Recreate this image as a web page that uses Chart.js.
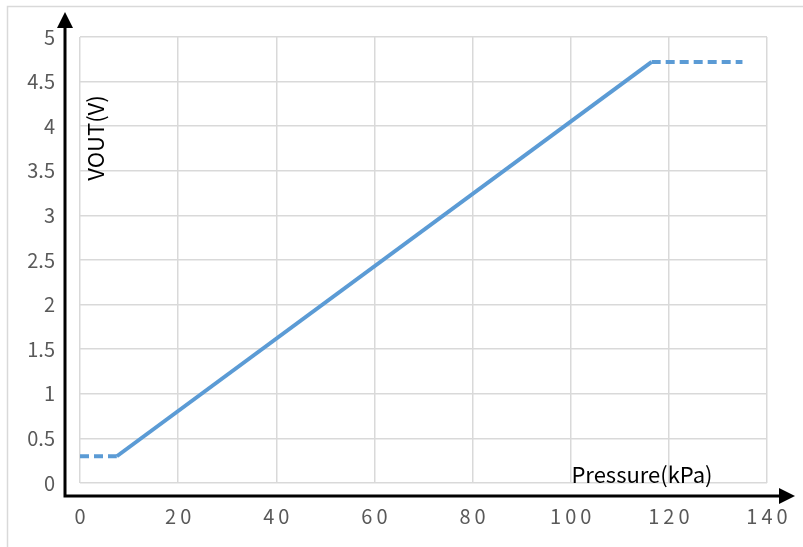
<!DOCTYPE html>
<html>
<head>
<meta charset="utf-8">
<script src="https://cdn.jsdelivr.net/npm/chart.js@4"></script>
<style>
  html, body { margin: 0; padding: 0; background: #fff; overflow: hidden; }
  canvas { display: block; }
</style>
</head>
<body>
<canvas id="c" width="803" height="547"></canvas>
<script>
// pressure (kPa) / output (V)
const lowX = [0, 7.5];
const lowY = [0.3, 0.3];
const rampX = [7.5, 116.5];
const rampY = [0.3, 4.72];
const highX = [116.5, 135];
const highY = [4.72, 4.72];

const xTicks = [0, 20, 40, 60, 80, 100, 120, 140];
const yTicks = [0, 0.5, 1, 1.5, 2, 2.5, 3, 3.5, 4, 4.5, 5];

const FONT = '"Noto Sans CJK SC", "Noto Sans", sans-serif';
const BLUE = '#5b9bd5';

function pts(xs, ys) {
    return xs.map((x, i) => ({ x: x, y: ys[i] }));
}

// frame, black arrow axes and the two axis titles
const decor = {
    id: 'decor',
    beforeDraw(chart) {
        const ctx = chart.ctx;
        ctx.save();
        ctx.fillStyle = '#fff';
        ctx.fillRect(0, 0, chart.width, chart.height);
        ctx.strokeStyle = '#d9d9d9';
        ctx.lineWidth = 1.5;
        ctx.strokeRect(7.5, 6.5, chart.width + 20, chart.height + 20);
        ctx.restore();
    },
    afterDraw(chart) {
        const ctx = chart.ctx;
        const a = chart.chartArea;
        const ax = a.left - 15;
        const ay = a.bottom + 13;
        ctx.save();
        ctx.strokeStyle = '#000';
        ctx.fillStyle = '#000';
        ctx.lineWidth = 3;
        ctx.beginPath();
        ctx.moveTo(ax, ay + 1.5);
        ctx.lineTo(ax, 28);
        ctx.moveTo(ax - 1.5, ay);
        ctx.lineTo(chart.width - 22, ay);
        ctx.stroke();
        // arrow heads
        ctx.beginPath();
        ctx.moveTo(ax, 12);
        ctx.lineTo(ax - 8, 28);
        ctx.lineTo(ax + 8, 28);
        ctx.closePath();
        ctx.fill();
        ctx.beginPath();
        ctx.moveTo(chart.width - 8, ay);
        ctx.lineTo(chart.width - 24, ay - 8);
        ctx.lineTo(chart.width - 24, ay + 8);
        ctx.closePath();
        ctx.fill();

        ctx.font = '22px ' + FONT;
        ctx.fillStyle = '#000';
        ctx.textAlign = 'center';
        ctx.textBaseline = 'middle';
        ctx.fillText('Pressure(kPa)', 642, 475);
        ctx.translate(96, 138);
        ctx.rotate(-Math.PI / 2);
        ctx.fillText('VOUT(V)', 0, 0);
        ctx.restore();
    }
};

const seg = { borderColor: BLUE, borderWidth: 4, pointRadius: 0, showLine: true, fill: false };

new Chart(document.getElementById('c'), {
    type: 'scatter',
    data: {
        datasets: [
            Object.assign({ data: pts(lowX, lowY), borderDash: [9, 5] }, seg),
            Object.assign({ data: pts(rampX, rampY) }, seg),
            Object.assign({ data: pts(highX, highY), borderDash: [9, 5] }, seg)
        ]
    },
    options: {
        responsive: false,
        animation: false,
        layout: { padding: { left: 0, right: 36, top: 37, bottom: 0 } },
        plugins: { legend: { display: false }, tooltip: { enabled: false } },
        scales: {
            x: {
                type: 'linear',
                min: 0, max: 140,
                afterBuildTicks: s => { s.ticks = xTicks.map(v => ({ value: v })); },
                afterFit: s => { s.height = 64; s.paddingLeft = 0; s.paddingRight = 0; },
                grid: { color: '#d9d9d9', lineWidth: 1.5, drawTicks: false },
                border: { display: false },
                ticks: {
                    padding: 21,
                    color: '#595959',
                    font: { family: FONT, size: 20 },
                    maxRotation: 0,
                    callback: v => String(v).split('').join('\u2009')
                }
            },
            y: {
                type: 'linear',
                min: 0, max: 5,
                afterBuildTicks: s => { s.ticks = yTicks.map(v => ({ value: v })); },
                afterFit: s => { s.width = 80; s.paddingTop = 0; s.paddingBottom = 0; },
                grid: { color: '#d9d9d9', lineWidth: 1.5, drawTicks: false },
                border: { display: false },
                ticks: {
                    padding: 25,
                    color: '#595959',
                    font: { family: FONT, size: 20 },
                    callback: v => String(v)
                }
            }
        }
    },
    plugins: [decor]
});
</script>
</body>
</html>
